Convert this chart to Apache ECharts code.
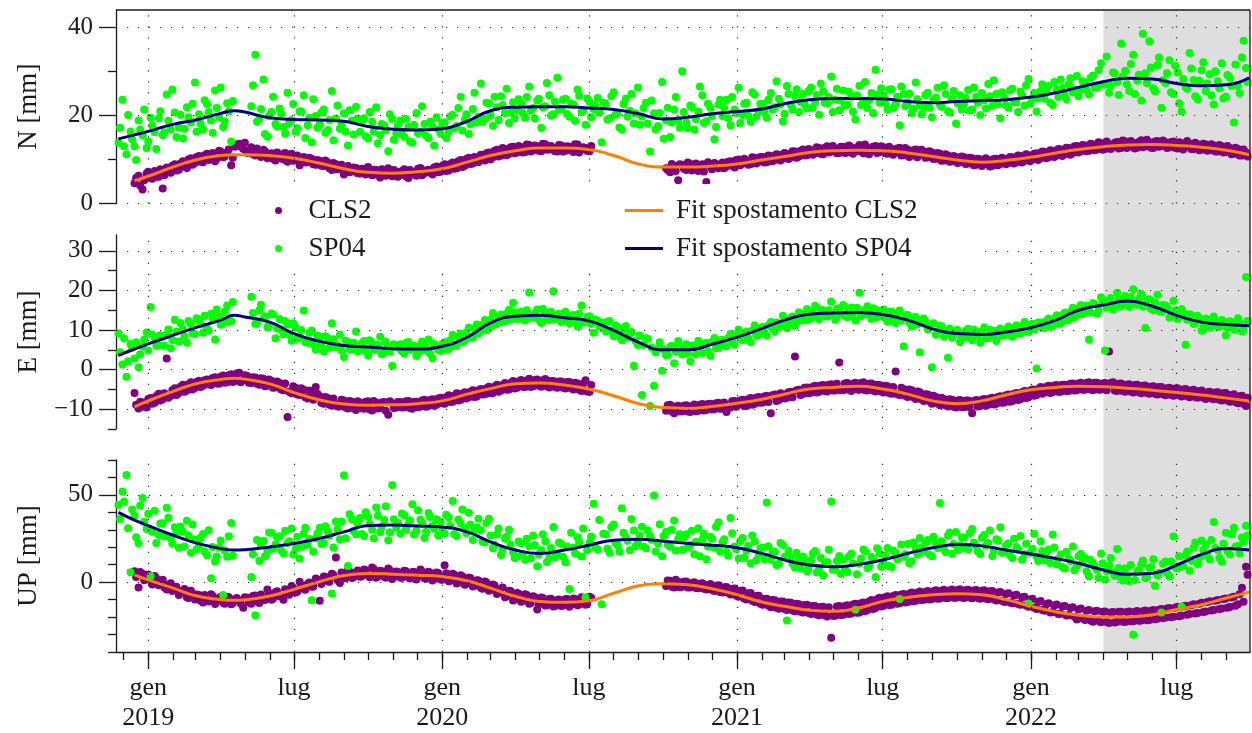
<!DOCTYPE html>
<html>
<head>
<meta charset="utf-8">
<script src="https://cdn.jsdelivr.net/npm/echarts@6/dist/echarts.min.js"></script>
<style>
  html, body { margin: 0; padding: 0; background: #ffffff; }
  #chart { width: 1252px; height: 733px; }
</style>
</head>
<body>
<div id="chart"></div>
<script>
// Daily GNSS displacement (N, E, UP) of stations CLS2 and SP04 with their fitted trends.

// Observations: two interleaved runs, each one value every 5 days from its own start date
// (null = no solution on that day)
const sampleStartA = '2018-11-25';
const sampleStartB = '2018-11-27';
const sampleStepDays = 5;

const nCLS2_a = [
  null, null, null, null, 4.6, 6.3, 3.2, 6.8, 5.9, 7.4,
  6.1, 3.4, 8.2, 7.0, 8.9, 7.7, 9.6, 8.1, 10.3, 9.2,
  10.8, 9.4, 11.3, 10.1, 9.6, 12.0, 10.5, 11.6, 8.7, 12.9,
  13.6, 12.4, 11.5, 12.8, 10.9, 11.7, 12.2, 10.3, 11.4, 9.8,
  11.2, 10.0, 9.5, 11.3, 9.9, 8.7, 10.6, 9.4, 10.2, 8.8,
  9.7, 8.5, 9.3, 7.6, 8.9, 7.9, 6.6, 8.5, 7.3, 8.1,
  6.8, 7.9, 8.3, 6.4, 7.6, 5.9, 7.4, 8.0, 6.2, 7.3,
  6.5, 7.8, 5.8, 7.1, 6.3, 8.1, 6.9, 7.7, 6.6, 8.4,
  7.2, 8.9, 7.5, 9.3, 8.0, 9.9, 8.6, 10.4, 9.1, 9.7,
  11.1, 9.8, 11.6, 10.5, 12.2, 10.9, 12.4, 11.3, 12.9, 11.6,
  12.8, 11.7, 13.3, 12.1, 13.0, 11.9, 13.5, 12.3, 12.7, 11.8,
  13.2, 12.0, 12.9, 11.7, 13.4, 12.2, 12.6, 11.9, null, null,
  null, null, null, null, null, null, null, null, null, null,
  null, null, null, null, null, null, 8.0, 7.1, 8.6, 5.3,
  8.8, 7.6, 9.0, 8.1, 7.4, 8.9, 4.9, 8.5, 9.2, 8.0,
  9.3, 8.4, 9.6, 8.2, 10.0, 9.1, 9.8, 8.9, 10.4, 9.5,
  10.6, 9.4, 10.8, 9.9, 11.1, 10.2, 11.3, 10.5, 11.8, 10.7,
  12.3, 11.0, 12.1, 11.4, 12.6, 11.2, 13.0, 11.8, 12.5, 11.5,
  12.9, 11.6, 12.8, 11.9, 13.3, 11.4, 12.6, 12.0, 13.1, 11.7,
  12.8, 11.3, 12.4, 11.6, 12.7, 11.0, 12.2, 10.9, 12.3, 11.1,
  11.8, 10.5, 11.6, 10.2, 11.3, 9.8, 10.9, 9.6, 10.6, 9.4,
  10.5, 9.1, 10.3, 8.8, 10.0, 8.9, 9.9, 8.6, 10.2, 9.0,
  10.1, 9.2, 10.5, 9.4, 10.8, 9.7, 11.0, 10.0, 11.4, 10.3,
  11.7, 10.5, 12.0, 10.9, 12.3, 11.2, 12.6, 11.5, 13.1, 11.9,
  13.2, 12.0, 13.4, 12.3, 13.7, 12.4, 13.5, 12.8, 14.0, 12.6,
  14.1, 12.9, 13.8, 12.7, 14.4, 13.0, 13.9, 12.6, 14.2, 13.1,
  13.9, 12.8, 14.1, 12.5, 13.7, 12.9, 13.6, 12.4, 13.5, 12.2,
  13.4, 12.1, 13.2, 11.8, 13.0, 11.7, 12.6, 11.3, 12.4, 10.9,
  11.6
];
const nCLS2_b = [
  null, null, null, null, 5.8, 4.1, 5.3, 7.2, 5.6, 6.1,
  7.8, 6.4, 7.1, 8.6, 7.5, 9.1, 8.4, 10.0, 8.8, 10.6,
  9.5, 11.0, 9.9, 11.5, 10.2, 11.8, 10.7, 12.3, 10.4, 13.4,
  12.9, 13.8, 12.0, 11.2, 12.5, 10.6, 11.9, 11.1, 10.2, 11.6,
  10.3, 11.5, 10.8, 9.7, 10.9, 9.6, 9.3, 10.4, 8.9, 9.9,
  8.6, 9.8, 8.0, 9.2, 7.8, 8.8, 8.3, 7.1, 8.2, 6.9,
  7.9, 6.6, 7.1, 7.7, 6.5, 7.8, 6.3, 7.2, 7.6, 6.1,
  7.4, 6.2, 7.6, 6.6, 7.9, 6.4, 7.5, 7.0, 8.2, 7.1,
  8.5, 7.4, 9.0, 7.9, 9.6, 8.3, 10.1, 9.0, 10.6, 9.4,
  10.2, 11.4, 10.0, 12.0, 10.7, 12.6, 11.0, 12.8, 11.4, 13.1,
  11.6, 13.4, 11.8, 13.2, 12.0, 13.6, 12.2, 13.1, 11.9, 13.3,
  11.8, 13.0, 12.1, 13.5, 11.6, 12.8, 12.0, 13.1, null, null,
  null, null, null, null, null, null, null, null, null, null,
  null, null, null, null, null, null, 7.6, 9.0, 7.4, 8.9,
  7.9, 9.3, 7.5, 9.1, 8.2, 7.3, 9.4, 7.8, 9.0, 8.3,
  8.0, 9.5, 8.6, 9.9, 8.7, 10.2, 8.8, 10.5, 9.1, 10.6,
  9.3, 10.9, 9.6, 11.2, 9.8, 11.5, 10.1, 11.9, 10.4, 12.0,
  10.9, 12.4, 11.1, 12.8, 11.3, 12.7, 11.6, 13.1, 11.4, 12.9,
  11.5, 13.2, 11.3, 12.7, 11.8, 13.4, 11.2, 12.9, 11.5, 13.0,
  11.4, 12.9, 11.1, 12.5, 10.9, 12.6, 10.6, 12.1, 10.5, 12.2,
  10.4, 11.9, 10.1, 11.5, 9.7, 11.2, 9.5, 10.8, 9.2, 10.7,
  9.0, 10.4, 8.7, 10.2, 8.5, 10.3, 8.4, 10.1, 8.7, 10.4,
  8.9, 10.6, 9.1, 10.9, 9.3, 11.2, 9.6, 11.3, 9.9, 11.8,
  10.3, 12.1, 10.6, 12.4, 10.8, 12.7, 11.1, 13.0, 11.6, 13.3,
  11.9, 13.6, 12.1, 13.9, 12.2, 14.1, 12.4, 13.8, 12.5, 14.3,
  12.6, 14.2, 12.5, 14.0, 12.8, 14.5, 12.7, 14.1, 12.9, 14.3,
  12.6, 14.0, 12.7, 13.9, 12.3, 14.2, 12.4, 13.8, 12.1, 13.6,
  12.0, 13.5, 11.8, 13.3, 11.6, 13.1, 11.2, 12.7, 10.9, 12.3,
  10.7
];

const nSP04_a = [
  13.8, 23.6, 11.2, 16.4, 13.0, 18.9, 15.5, 12.6, 19.5, 16.2,
  19.4, 15.6, 24.8, 16.9, 20.7, 17.3, 14.8, 21.9, 18.4, 27.5,
  20.3, 16.8, 22.6, 18.9, 25.7, 19.6, 17.4, 22.8, 14.1, null,
  null, null, null, 22.1, 33.8, 19.4, 28.2, 15.2, 20.8, 18.1,
  21.6, 17.4, 25.2, 19.0, 16.3, 20.9, 24.6, 17.8, 13.9, 19.9,
  18.1, 21.4, 16.7, 25.6, 19.3, 17.0, 20.5, 13.2, 18.9, 22.0,
  16.3, 19.4, 14.8, 18.6, 21.9, 15.6, 17.8, 11.9, 19.2, 16.0,
  18.9, 15.2, 17.4, 13.8, 20.6, 16.3, 18.1, 14.9, 17.5, 19.6,
  15.9, 18.4, 16.3, 20.2, 17.6, 24.3, 19.1, 15.8, 21.5, 18.4,
  27.3, 19.2, 22.8, 17.7, 21.9, 24.4, 20.6, 18.3, 23.0, 21.2,
  22.8, 19.5, 26.6, 21.7, 23.4, 17.2, 22.1, 24.6, 20.3, 28.6,
  21.4, 23.8, 19.7, 22.5, 25.9, 20.8, 17.9, 23.1, 21.5, 24.0,
  13.9, 22.7, 19.4, 25.3, 20.6, 16.8, 23.9, 21.1, 18.2, 26.4,
  19.8, 22.9, 11.8, 20.5, 17.6, 27.6, 18.9, 15.1, 21.4, 19.0,
  30.1, 18.4, 22.3, 16.8, 20.9, 24.6, 18.7, 21.8, 14.6, 22.5,
  19.9, 23.6, 17.8, 21.4, 26.3, 20.1, 22.9, 18.6, 24.8, 21.0,
  22.7, 19.5, 25.1, 21.9, 23.8, 18.7, 26.7, 22.4, 24.5, 20.8,
  24.9, 21.6, 26.4, 23.1, 20.2, 25.5, 22.8, 28.9, 23.6, 21.2,
  25.7, 22.5, 24.3, 19.1, 26.8, 23.2, 21.7, 25.1, 30.4, 22.9,
  24.6, 21.3, 26.0, 22.7, 17.8, 24.9, 23.0, 20.6, 27.5, 22.4,
  21.9, 25.2, 19.6, 24.1, 22.5, 26.9, 21.0, 23.8, 18.2, 24.6,
  22.7, 25.8, 21.4, 24.3, 20.1, 23.5, 27.2, 22.2, 24.9, 19.4,
  24.1, 21.8, 26.1, 23.0, 25.4, 22.3, 28.3, 23.7, 20.9, 25.6,
  23.8, 26.7, 22.4, 25.9, 28.2, 24.6, 27.1, 25.3, 29.0, 26.0,
  27.5, 24.8, 29.1, 26.3, 31.9, 27.0, 25.2, 29.8, 27.6, 36.4,
  30.2, 25.6, 33.8, 27.9, 23.4, 29.6, 36.9, 26.2, 31.5, 21.8,
  27.4, 32.6, 24.9, 29.8, 20.9, 26.5, 34.2, 28.1, 23.7, 30.3,
  25.6, 29.4, 22.5, 27.8, 31.9, 24.3, 28.6, 18.4, 26.9, 33.2,
  30.8
];
const nSP04_b = [
  17.2, 13.0, 20.1, 14.6, 9.9, 16.8, 21.4, 14.1, 17.7, 12.4,
  21.0, 16.2, 18.8, 25.9, 15.1, 20.2, 17.0, 19.6, 22.7, 16.4,
  18.2, 23.5, 20.8, 16.1, 21.7, 26.4, 18.7, 20.9, 23.3, null,
  null, null, null, 26.9, 18.6, 21.5, 15.8, 19.9, 24.3, 17.5,
  20.4, 15.9, 18.3, 22.6, 17.1, 21.0, 14.9, 19.5, 23.7, 17.3,
  20.7, 16.1, 19.0, 14.4, 22.3, 18.1, 16.4, 21.2, 15.7, 19.3,
  18.6, 15.3, 20.8, 16.4, 13.7, 18.1, 16.7, 20.3, 14.5, 17.6,
  15.8, 19.2, 14.1, 17.9, 16.0, 22.1, 15.4, 18.6, 13.2, 16.9,
  18.3, 14.9, 19.8, 17.1, 21.7, 16.6, 20.3, 18.0, 25.2, 19.7,
  18.6, 22.9, 20.1, 24.3, 19.0, 22.4, 26.1, 20.7, 19.4, 23.7,
  20.6, 24.2, 21.1, 19.3, 23.8, 21.9, 27.4, 20.0, 23.2, 21.4,
  23.6, 20.4, 22.7, 18.8, 24.5, 21.2, 23.9, 19.6, 22.2, 20.7,
  22.9, 19.1, 24.4, 20.2, 17.3, 22.6, 19.8, 24.9, 20.5, 17.9,
  21.7, 18.2, 23.4, 16.9, 20.6, 14.7, 21.8, 18.4, 24.2, 17.2,
  20.8, 17.1, 21.9, 19.2, 26.6, 18.3, 22.7, 19.9, 17.4, 23.6,
  21.8, 19.4, 24.2, 20.6, 18.3, 22.7, 20.0, 25.3, 19.7, 22.6,
  20.9, 23.6, 21.4, 27.8, 22.5, 20.4, 24.9, 21.3, 26.0, 23.1,
  22.5, 25.6, 21.8, 24.7, 27.3, 22.9, 24.2, 20.8, 26.1, 23.4,
  22.2, 25.4, 20.9, 24.6, 22.4, 27.6, 23.5, 20.6, 24.8, 26.2,
  22.8, 25.9, 21.7, 24.3, 26.6, 22.1, 25.0, 21.6, 23.7, 20.3,
  24.7, 21.8, 23.6, 26.3, 22.0, 24.9, 20.7, 25.6, 22.8, 21.4,
  24.0, 21.1, 26.4, 22.9, 25.1, 21.6, 24.4, 28.0, 22.6, 25.3,
  22.4, 25.7, 23.1, 20.8, 24.6, 26.9, 22.7, 25.2, 23.9, 27.1,
  25.4, 22.9, 27.6, 24.2, 26.3, 23.7, 28.5, 25.9, 24.4, 27.8,
  25.8, 28.6, 26.4, 30.3, 27.1, 33.4, 26.9, 29.6, 24.7, 28.9,
  27.1, 31.7, 24.9, 29.3, 38.6, 27.4, 30.9, 25.5, 33.2, 28.0,
  29.6, 25.3, 31.4, 22.8, 28.3, 26.1, 30.7, 24.4, 27.9, 32.1,
  27.3, 24.6, 30.1, 26.2, 23.9, 29.2, 26.7, 31.6, 25.1, 37.0,
  27.6
];

const eCLS2_a = [
  null, null, null, null, -5.9, -9.8, -8.3, -9.6, -7.2, -8.4,
  -6.1, -7.5, 2.8, -6.6, -4.7, -5.9, -3.8, -5.3, -3.2, -4.6,
  -2.8, -4.1, -2.5, -3.9, -1.9, -3.6, -1.5, -3.2, -1.2, -2.9,
  -0.8, -2.6, -1.6, -3.4, -2.0, -3.8, -2.3, -4.1, -2.8, -4.5,
  -3.4, -5.2, -12.0, -6.0, -4.6, -6.4, -5.1, -7.3, -6.0, -4.4,
  -6.7, -8.6, -7.2, -9.1, -8.7, -9.3, -7.8, -9.8, -8.1, -10.2,
  -8.3, -9.9, -8.0, -10.3, -8.4, -9.7, -8.2, -11.4, -8.5, -9.6,
  -8.2, -9.5, -7.9, -9.9, -8.1, -9.3, -7.6, -9.2, -7.5, -8.9,
  -7.1, -8.6, -6.5, -8.1, -6.0, -7.6, -5.7, -7.0, -5.2, -6.8,
  -4.9, -6.2, -4.3, -5.9, -3.8, -5.3, -3.4, -5.0, -2.9, -4.6,
  -2.6, -4.4, -2.3, -4.2, -2.5, -4.3, -2.4, -4.5, -2.9, -4.6,
  -3.0, -4.8, -3.1, -5.0, -3.5, -5.4, -2.7, -5.6, null, null,
  null, null, null, null, null, null, null, null, null, null,
  null, null, null, null, null, null, -10.4, -8.9, -11.0, -9.1,
  -10.5, -9.0, -10.7, -8.8, -10.4, -8.7, -10.2, -8.6, -10.0, -8.4,
  -9.8, -10.7, -9.6, -7.9, -8.9, -7.6, -9.2, -7.2, -8.6, -6.9,
  -8.3, -6.6, -11.0, -6.3, -7.7, -6.2, -7.1, -5.6, 3.3, -5.1,
  -6.1, -4.5, -5.8, -4.1, -5.6, -3.9, -5.5, -3.7, -5.3, 1.8,
  -5.2, -3.4, -5.4, -3.3, -5.1, -3.2, -5.3, -3.5, -5.5, -3.9,
  -5.8, -4.2, -6.1, -0.5, -6.4, -4.9, -6.9, -5.2, -7.4, -5.7,
  -7.9, -6.3, -8.6, -6.9, -9.0, -7.4, -9.3, -7.6, -9.6, -7.7,
  -9.5, -7.8, -11.0, -7.7, -9.2, -7.4, -8.9, -7.1, -8.6, -6.7,
  -8.3, -6.3, -7.9, -5.9, -7.5, -5.4, -7.0, -5.0, -6.4, -4.4,
  -5.8, -4.1, -5.7, -3.9, -5.6, -3.8, -5.4, -3.5, -5.2, -3.3,
  -5.1, -3.2, -5.2, -3.3, -5.0, -3.4, 4.6, -3.2, -5.4, -3.5,
  -5.6, -3.7, -5.8, -3.8, -6.0, -4.0, -6.1, -4.2, -6.3, -4.4,
  -6.5, -4.6, -6.6, -4.7, -6.8, -4.9, -7.0, -5.1, -7.1, -5.3,
  -7.4, -5.6, -7.5, -5.7, -7.8, -5.9, -8.1, -6.2, -8.5, -6.6,
  -9.2
];
const eCLS2_b = [
  null, null, null, null, -8.9, -8.1, -9.4, -7.4, -8.6, -6.7,
  -7.8, -6.0, -7.1, -5.2, -6.4, -4.3, -5.6, -3.7, -5.0, -3.1,
  -4.4, -2.7, -3.7, -2.1, -3.5, -1.8, -3.3, -1.4, -3.1, -1.0,
  -3.2, -1.4, -3.3, -1.9, -3.6, -2.2, -4.2, -2.5, -4.6, -3.0,
  -5.0, -3.5, -5.6, -4.2, -6.3, -4.7, -7.0, -5.3, -7.6, -6.1,
  -8.4, -6.9, -8.9, -7.3, -9.3, -7.6, -9.6, -7.9, -9.8, -8.0,
  -9.7, -8.1, -10.1, -7.9, -9.8, -8.3, -10.4, -8.0, -9.7, -8.2,
  -9.6, -8.0, -9.7, -8.1, -9.5, -7.8, -9.4, -7.7, -9.1, -7.3,
  -8.5, -7.0, -8.2, -6.6, -7.8, -6.1, -7.3, -5.6, -6.9, -5.2,
  -6.3, -4.7, -6.0, -4.3, -5.6, -3.9, -5.1, -3.4, -4.8, -3.0,
  -4.3, -2.8, -4.4, -2.6, -4.1, -2.7, -4.2, -2.9, -4.4, -3.0,
  -4.6, -3.1, -4.7, -3.3, -5.1, -3.6, -5.5, -3.9, null, null,
  null, null, null, null, null, null, null, null, null, null,
  null, null, null, null, null, null, -9.0, -10.5, -9.3, -10.6,
  -9.1, -10.6, -9.2, -10.5, -8.9, -10.3, -8.7, -10.1, -8.5, -9.9,
  -8.3, -9.7, -8.0, -9.4, -7.8, -9.2, -7.5, -8.9, -7.1, -8.4,
  -6.8, -8.2, -6.5, -7.9, -6.0, -7.3, -5.7, -7.0, -5.2, -6.4,
  -4.6, -6.0, -4.3, -5.8, -4.0, -5.4, -3.8, -5.3, -3.6, -5.2,
  -3.5, -5.1, -3.6, -5.0, -3.4, -5.2, -3.6, -5.3, -3.8, -5.5,
  -4.1, -5.9, -4.4, -6.2, -4.6, -6.6, -5.0, -7.0, -5.5, -7.5,
  -6.2, -8.0, -6.6, -8.5, -7.1, -9.0, -7.5, -9.4, -7.8, -9.5,
  -7.8, -9.5, -7.9, -9.3, -7.6, -9.1, -7.3, -8.8, -6.9, -8.4,
  -6.5, -8.1, -6.1, -7.7, -5.7, -7.2, -5.3, -6.6, -4.9, -6.1,
  -4.3, -5.9, -4.0, -5.6, -3.8, -5.4, -3.6, -5.3, -3.5, -5.1,
  -3.4, -5.0, -3.3, -5.1, -3.5, -5.2, -3.4, -5.3, -3.6, -5.4,
  -3.8, -5.5, -3.9, -5.7, -4.1, -5.9, -4.3, -6.1, -4.4, -6.2,
  -4.7, -6.4, -4.8, -6.5, -5.0, -6.7, -5.2, -6.9, -5.4, -7.1,
  -5.7, -7.3, -5.8, -7.6, -6.0, -7.8, -6.4, -8.2, -6.7, -8.6,
  -7.1
];

const eSP04_a = [
  9.2, 1.3, -1.8, 6.5, 2.8, 0.6, 5.9, 9.4, 15.8, 8.1,
  6.2, 8.3, 8.9, 5.4, 12.6, 7.1, 10.2, 6.8, 11.5, 9.0,
  12.7, 9.3, 10.5, 14.1, 7.6, 13.4, 11.8, 16.2, 12.2, null,
  null, null, null, 18.4, 11.6, 15.0, 12.9, 10.7, 14.2, 7.9,
  12.8, 9.0, 11.4, 7.3, 10.6, 8.2, 14.9, 6.8, 9.9, 5.1,
  8.3, 4.6, 7.9, 11.7, 5.7, 8.8, 3.2, 7.0, 5.0, 9.6,
  4.9, 7.2, 3.6, 6.8, 5.1, 8.3, 4.4, 6.1, 1.0, 5.9,
  6.4, 4.1, 7.0, 5.3, 3.5, 6.2, 4.8, 7.6, 2.9, 5.7,
  4.7, 6.9, 5.2, 8.8, 6.0, 9.1, 7.2, 10.6, 8.1, 11.4,
  9.8, 12.5, 10.4, 14.3, 11.6, 13.9, 12.2, 15.1, 16.9, 12.8,
  14.7, 12.4, 19.5, 13.1, 15.2, 11.8, 14.4, 12.5, 19.8, 13.6,
  12.0, 14.6, 11.7, 13.8, 10.9, 16.2, 12.1, 13.5, 9.3, 12.4,
  11.9, 9.6, 12.3, 8.4, 10.7, 7.5, 11.0, 9.1, 1.0, 6.2,
  -6.4, 7.9, -9.2, -4.1, 5.3, -0.3, 3.6, 5.8, 1.6, 7.2,
  3.8, 6.4, 2.1, 5.9, 7.3, 4.2, 6.8, 3.5, 8.0, 5.6,
  7.5, 5.9, 9.0, 6.3, 10.1, 7.4, 9.6, 6.9, 11.2, 8.7,
  10.8, 8.6, 12.0, 9.7, 11.4, 13.6, 10.5, 12.9, 11.1, 14.5,
  12.4, 15.3, 13.0, 16.1, 12.7, 14.9, 13.4, 17.2, 12.6, 15.5,
  16.3, 13.2, 15.7, 12.4, 19.4, 14.0, 16.0, 12.8, 15.1, 13.5,
  15.2, 12.1, 14.6, 11.8, 14.9, 5.9, 13.8, 10.9, 13.3, 4.4,
  12.9, 10.2, 0.6, 8.8, 11.1, 8.3, 3.0, 8.1, 9.9, 7.0,
  8.1, 10.3, 7.4, 9.6, 6.8, 10.7, 8.0, 9.9, 7.2, 10.4,
  8.7, 10.9, 8.3, 11.2, 9.1, 12.0, 9.6, 11.6, 0.3, 11.9,
  10.6, 12.9, 11.0, 13.7, 11.8, 14.4, 12.5, 15.6, 13.8, 16.3,
  14.6, 7.6, 16.8, 14.1, 18.3, 4.8, 17.5, 15.2, 19.4, 16.0,
  18.6, 15.9, 20.3, 16.4, 19.1, 10.5, 17.8, 15.0, 18.9, 14.6,
  16.2, 13.1, 17.4, 12.8, 15.3, 6.3, 14.0, 11.5, 13.6, 9.8,
  12.9, 10.6, 13.4, 10.9, 12.5, 8.6, 12.2, 10.1, 13.0, 9.6,
  23.4
];
const eSP04_b = [
  4.4, 7.9, 2.1, 5.6, 6.9, 3.9, 7.6, 4.8, 8.9, 6.0,
  8.7, 6.0, 10.1, 7.5, 9.6, 11.8, 8.4, 12.3, 9.1, 13.0,
  11.4, 13.6, 9.8, 12.9, 15.2, 11.3, 14.6, 12.0, 17.1, null,
  null, null, null, 14.3, 11.8, 16.4, 13.5, 11.2, 13.9, 10.4,
  10.1, 12.3, 8.9, 11.7, 7.8, 10.0, 6.9, 9.3, 6.4, 8.6,
  6.3, 8.4, 5.5, 7.7, 6.1, 4.9, 7.3, 5.2, 6.8, 4.6,
  6.6, 4.8, 7.4, 5.0, 6.3, 3.9, 7.0, 4.6, 6.4, 5.5,
  4.6, 6.7, 5.1, 6.0, 4.3, 7.1, 5.5, 4.0, 6.5, 5.0,
  6.5, 5.1, 7.4, 6.2, 8.3, 7.0, 9.4, 8.2, 10.3, 9.1,
  11.3, 10.0, 12.6, 11.4, 13.3, 12.0, 14.1, 12.6, 14.5, 13.1,
  12.8, 15.0, 13.3, 14.2, 12.6, 15.4, 13.0, 14.6, 12.7, 14.1,
  14.0, 12.2, 13.6, 12.4, 14.1, 11.9, 13.3, 11.5, 12.6, 10.9,
  10.4, 12.1, 9.9, 11.2, 9.0, 10.1, 8.1, 9.5, 7.2, 8.6,
  6.2, 7.8, 5.6, 4.4, 6.9, 5.1, 3.8, 6.0, 4.5, 5.9,
  5.6, 4.2, 6.1, 3.9, 5.8, 6.6, 4.7, 7.0, 5.4, 7.4,
  6.1, 8.0, 7.2, 8.8, 7.9, 9.2, 8.0, 9.9, 8.6, 10.4,
  9.3, 11.2, 10.4, 11.9, 10.8, 12.5, 11.3, 13.4, 12.0, 13.7,
  14.1, 12.6, 14.5, 13.3, 15.2, 13.6, 15.0, 13.8, 15.4, 13.9,
  13.6, 15.3, 14.0, 15.6, 13.5, 15.1, 13.9, 15.5, 13.3, 14.8,
  13.1, 14.6, 12.8, 14.2, 12.4, 13.7, 11.9, 13.2, 11.4, 12.6,
  12.2, 10.6, 11.7, 9.7, 10.9, 9.0, 10.4, 8.7, 10.0, 8.4,
  9.8, 8.2, 10.1, 8.5, 9.6, 7.9, 10.0, 8.3, 9.9, 8.6,
  10.1, 8.8, 10.6, 9.2, 11.0, 9.7, 11.4, 10.1, 11.9, 10.5,
  12.3, 10.8, 12.9, 11.6, 13.8, 12.4, 14.6, 13.2, 15.5, 14.0,
  16.2, 14.4, 16.6, 15.0, 17.2, 15.6, 18.1, 16.0, 17.8, 16.5,
  16.4, 18.3, 16.7, 17.9, 15.9, 17.6, 15.4, 16.9, 14.8, 16.3,
  15.6, 13.9, 14.9, 13.2, 14.3, 12.6, 13.8, 11.9, 13.0, 11.4,
  12.7, 11.1, 12.4, 10.8, 12.2, 10.6, 11.9, 10.4, 11.8, 10.1,
  12.3
];

const upCLS2_a = [
  null, null, null, null, 6.3, -3.1, 4.8, 2.0, 0.9, 3.5,
  -1.8, 1.4, -4.2, -0.6, -3.5, -7.3, -5.1, -8.6, -4.9, -9.9,
  -7.4, -11.6, -8.2, -6.9, -12.5, -9.0, -11.8, -8.3, -12.7, -9.6,
  -10.8, -14.6, -8.9, -12.3, -7.6, -11.9, -9.7, -4.2, -10.1, -5.8,
  -8.1, -10.0, -6.7, -2.2, -5.9, 0.3, -3.8, -1.0, -2.6, 2.1,
  -10.6, 3.3, 0.6, 4.9, 14.2, -0.4, 3.0, 6.8, 2.4, 5.6,
  3.1, 7.2, 4.0, 8.4, 2.6, 6.5, 3.3, 7.9, 1.8, 6.1,
  2.7, 6.6, 3.0, 5.9, 1.5, 7.3, 2.2, 6.0, 0.9, 5.5,
  1.6, 9.7, 0.5, 4.8, -0.7, 3.9, -1.4, 2.6, -2.5, 1.1,
  -3.2, 0.4, -4.9, -1.3, -6.8, -3.7, -8.6, -4.9, -10.5, -6.2,
  -11.2, -6.9, -12.4, -8.1, -15.6, -8.8, -13.4, -9.6, -14.0, -10.2,
  -13.6, -9.8, -14.1, -9.4, -13.2, -8.7, -12.9, -8.4, null, null,
  null, null, null, null, null, null, null, null, null, null,
  null, null, null, null, null, null, -2.2, 0.8, -3.1, 0.2,
  -2.6, 0.4, -3.0, -0.1, -3.5, -0.6, -4.2, -1.1, -5.0, -1.7,
  -5.9, -2.8, -7.1, -3.6, -8.3, -4.8, -9.9, -6.2, -11.4, -7.8,
  -13.0, -9.5, -14.3, -10.4, -15.2, -11.1, -16.0, -11.8, -16.7, -12.6,
  -17.4, -13.0, -18.2, -13.6, -19.0, -14.1, -19.6, -31.8, -19.3, -13.7,
  -18.6, -13.2, -17.9, -12.4, -17.3, -11.6, -16.0, -10.2, -14.8, -8.9,
  -13.5, -8.1, -12.9, -7.3, -12.1, -6.7, -11.4, -5.9, -10.6, -5.4,
  -10.1, -5.0, -9.6, -4.6, -9.3, -4.4, -9.1, -4.2, -8.9, -4.1,
  -9.0, -4.3, -9.2, -4.5, -9.5, -4.6, -9.8, -5.0, -10.5, -5.6,
  -11.3, -6.4, -12.1, -7.2, -13.0, -8.3, -14.1, -9.5, -15.3, -10.8,
  -16.4, -12.0, -17.2, -12.8, -18.1, -13.6, -19.0, -14.3, -21.4, -15.1,
  -21.7, -16.0, -22.6, -16.4, -22.9, -16.8, -23.4, -17.1, -22.6, -16.9,
  -22.8, -16.8, -22.4, -16.5, -22.0, -16.2, -21.6, -15.9, -21.0, -15.4,
  -20.3, -14.8, -19.8, -14.1, -19.1, -13.5, -18.3, -12.7, -17.6, -11.8,
  -16.8, -10.9, -16.0, -10.2, -15.1, -9.3, -14.2, -8.4, -12.6, -3.2,
  8.9
];
const upCLS2_b = [
  null, null, null, null, 2.9, 5.8, 1.1, 4.4, -1.3, 2.2,
  0.6, -3.0, -1.4, -5.1, -2.6, -6.2, -3.9, -9.0, -6.8, -7.1,
  -10.6, -7.4, -11.1, -7.9, -10.9, -8.4, -12.3, -8.6, -11.9, -9.1,
  -12.4, -8.6, -11.7, -7.9, -11.0, -7.1, -10.2, -6.3, -9.4, -5.2,
  -7.9, -4.1, -7.2, -3.3, -5.5, -1.7, -4.4, -0.2, -2.5, 1.5,
  -1.1, 2.9, 0.3, 4.1, 1.2, 5.5, 2.3, 6.1, 3.0, 6.7,
  3.4, 6.9, 2.8, 7.6, 3.2, 6.2, 2.5, 6.8, 3.0, 5.9,
  2.6, 6.3, 2.1, 5.8, 3.3, 6.1, 1.9, 5.4, 2.0, 5.2,
  1.4, 5.1, 0.8, 4.3, -0.2, 3.4, -0.9, 2.4, -2.0, 0.9,
  -3.7, -0.2, -4.5, -1.9, -6.1, -3.0, -7.9, -5.1, -9.9, -6.6,
  -10.6, -7.4, -11.9, -8.6, -12.6, -9.1, -13.2, -9.5, -13.6, -9.9,
  -13.4, -9.6, -13.0, -9.7, -12.8, -9.3, -12.4, -8.9, null, null,
  null, null, null, null, null, null, null, null, null, null,
  null, null, null, null, null, null, 0.9, -2.6, 1.4, -2.9,
  0.2, -3.0, -0.4, -3.4, -0.9, -3.8, -1.6, -4.5, -2.1, -5.6,
  -2.9, -6.1, -3.8, -7.6, -4.9, -9.4, -6.3, -10.7, -7.9, -12.3,
  -9.6, -13.4, -10.2, -14.6, -11.0, -15.4, -11.6, -16.2, -12.4, -16.9,
  -13.1, -17.6, -13.7, -18.5, -14.2, -18.9, -14.4, -19.2, -14.0, -18.8,
  -13.6, -18.2, -12.8, -17.5, -12.1, -16.6, -11.0, -15.3, -9.8, -13.9,
  -8.6, -13.1, -7.9, -12.4, -7.1, -11.6, -6.6, -10.9, -6.0, -10.2,
  -5.6, -9.9, -5.2, -9.5, -4.9, -9.1, -4.7, -8.9, -4.5, -8.8,
  -4.6, -8.8, -4.8, -9.1, -4.9, -9.4, -5.2, -9.8, -5.9, -10.7,
  -6.8, -11.6, -7.6, -12.5, -8.7, -13.4, -9.9, -14.7, -11.3, -15.9,
  -12.6, -17.4, -13.3, -18.3, -14.0, -19.1, -14.8, -19.8, -15.6, -20.6,
  -16.3, -21.9, -16.7, -22.3, -17.0, -22.8, -17.3, -23.1, -17.0, -22.6,
  -17.1, -22.4, -16.9, -22.1, -16.6, -21.8, -16.3, -21.3, -15.8, -20.7,
  -15.1, -20.1, -14.6, -19.5, -13.9, -18.7, -13.2, -18.0, -12.3, -17.1,
  -11.3, -16.2, -10.6, -15.4, -9.7, -14.6, -8.8, -13.5, -6.9, -11.2,
  4.3
];

const upSP04_a = [
  44.3, 52.0, 61.4, 5.7, 38.1, 22.3, 48.2, 30.5, 3.4, 40.9,
  27.1, 33.8, 42.6, 24.9, 31.4, 19.7, 29.0, 35.2, 16.8, 24.5,
  21.3, 27.6, 15.4, 2.3, 11.9, 19.8, -7.3, 14.6, 33.9, null,
  null, null, null, 3.0, -19.0, 12.1, 23.7, 17.9, 28.3, 21.6,
  26.3, 16.4, 22.5, 30.7, 19.2, 13.6, 27.8, 21.5, -10.4, 25.1,
  31.2, 22.4, 29.1, -6.5, 34.7, 24.6, 61.2, 9.2, 36.0, 27.5,
  36.8, 26.4, 37.5, 30.1, 42.8, 28.7, 35.6, 24.0, 55.7, 31.3,
  27.9, 38.4, 33.0, 44.6, 29.5, 35.8, 25.3, 39.7, 32.2, 36.1,
  34.5, 28.0, 37.2, 46.5, 26.4, 33.6, 30.9, 39.8, 24.1, 31.4,
  29.7, 22.8, 36.4, 19.5, 27.3, 15.6, 24.9, 30.1, 17.2, 14.5,
  22.3, 12.8, 20.6, 26.7, 9.1, 18.4, 23.5, 13.9, 31.6, 16.0,
  21.9, 11.4, -3.9, 19.8, 25.7, 14.7, -8.7, 22.8, 44.9, 18.7,
  -12.6, 27.4, 16.9, 33.1, 21.2, 42.4, 25.8, 18.3, 29.6, 23.0,
  31.8, 19.4, 26.5, 49.7, 22.1, 14.8, 28.9, 20.3, 35.4, 24.7,
  18.6, 27.5, 21.3, 16.0, 30.9, 24.4, 13.2, 26.1, 19.7, 34.3,
  22.9, 17.4, 36.8, 20.5, 13.6, 25.3, 18.2, 10.8, 23.4, 15.7,
  19.8, 45.6, 12.9, 17.5, 10.6, 21.3, -22.0, 14.2, 8.4, 13.1,
  14.7, 6.2, 12.4, 17.8, 8.1, 3.9, 11.6, 46.2, 7.3, 15.0,
  12.9, 5.8, 16.3, -15.8, 10.6, 18.7, 8.1, 14.5, 2.9, 16.4,
  11.2, 19.6, 8.7, 16.8, -9.6, 14.6, 21.9, 12.0, 19.4, 25.3,
  17.4, 24.2, 14.9, 22.5, 45.3, 19.0, 26.7, 16.3, 28.8, 21.1,
  25.6, 18.9, 30.4, 20.8, 16.2, 27.1, 22.4, 15.0, 24.6, 31.5,
  17.3, 22.1, 13.9, 20.2, 26.4, 16.0, -12.2, 19.1, 14.7, 23.5,
  12.6, 18.7, 27.3, 10.3, 15.9, 7.8, 13.6, 20.4, 9.1, 16.2,
  13.8, 3.4, 11.2, 7.0, 16.4, 1.6, 9.5, 5.7, 19.0, 2.8,
  7.9, 0.6, -30.1, 5.9, 10.2, 2.4, 8.3, 13.1, 4.0, -17.4,
  11.8, 3.2, 26.2, 8.0, -14.1, 15.5, 6.6, 19.7, 10.4, 23.9,
  21.6, 13.0, 34.5, 18.4, 11.7, 28.3, 15.9, 31.2, 20.8, 25.6,
  32.4
];
const upSP04_b = [
  36.2, 46.1, 30.9, 41.7, 25.8, 43.9, 34.6, 39.2, 29.1, 22.4,
  33.6, 26.2, 36.9, 22.1, 28.7, 31.9, 20.4, 26.8, 33.0, 18.9,
  25.4, 17.6, 29.8, 20.1, 14.7, 23.9, 18.2, 26.3, 15.3, null,
  null, null, null, 16.0, 24.2, 21.3, 14.9, 28.4, 19.1, 25.7,
  18.2, 29.5, 23.4, 15.8, 26.1, 20.3, 31.2, 24.8, 17.6, 27.9,
  21.9, 32.0, 26.6, 19.8, 30.3, 34.8, 25.2, 38.9, 29.3, 33.7,
  27.6, 40.1, 33.4, 25.2, 38.0, 31.7, 43.5, 28.6, 36.1, 33.9,
  39.3, 30.2, 35.5, 27.3, 41.2, 33.8, 28.9, 37.4, 30.6, 26.8,
  29.4, 38.6, 32.3, 27.5, 35.9, 41.7, 28.2, 33.1, 29.9, 36.4,
  23.1, 33.9, 26.8, 21.4, 30.7, 18.9, 26.0, 21.6, 13.8, 23.3,
  16.2, 24.9, 13.7, 21.3, 15.8, 27.4, 11.5, 19.6, 14.3, 22.7,
  14.6, 20.5, 28.3, 16.6, 22.9, 30.8, 18.4, 26.2, 19.9, 35.6,
  27.7, 19.3, 31.5, 22.6, 17.4, 28.3, 23.8, 36.2, 20.6, 26.9,
  20.5, 29.8, 24.3, 17.6, 33.2, 26.4, 21.5, 30.1, 18.2, 27.5,
  25.6, 19.8, 29.4, 23.2, 14.9, 27.8, 20.5, 24.9, 31.7, 17.6,
  24.6, 15.3, 28.1, 19.0, 23.6, 14.2, 20.9, 26.8, 12.6, 19.5,
  13.2, 20.6, 16.9, 9.8, 22.4, 14.6, 18.0, 10.5, 16.8, 7.9,
  12.8, 8.4, 16.4, 5.6, 13.9, 10.7, 18.6, 7.1, 12.2, 4.8,
  7.6, 14.8, 10.9, 4.6, 13.6, 17.9, 9.4, 12.7, 19.5, 8.8,
  15.4, 9.3, 18.2, 13.1, 21.6, 16.0, 10.8, 22.7, 15.9, 19.8,
  22.6, 15.8, 26.1, 19.6, 23.4, 17.3, 28.4, 21.9, 18.4, 25.7,
  19.3, 28.2, 22.8, 17.6, 25.4, 20.9, 29.6, 18.3, 23.7, 16.8,
  21.0, 15.4, 24.9, 18.7, 12.9, 22.0, 16.8, 27.7, 12.1, 17.9,
  16.8, 11.0, 19.9, 13.4, 8.7, 17.5, 12.2, 6.9, 14.8, 11.3,
  6.2, 12.7, 8.9, 2.4, 10.8, 6.4, 13.9, 3.7, 8.1, 0.9,
  3.5, 9.8, 1.3, 6.9, 12.4, 3.1, 8.7, -2.0, 5.3, 10.6,
  5.2, 11.9, 8.6, 14.8, 9.1, 17.6, 12.3, 22.8, 14.2, 18.5,
  15.1, 24.2, 19.6, 13.8, 22.0, 17.9, 27.4, 20.3, 16.6, 23.1,
  26.8
];

// Fitted displacement curves, sampled at these dates
const fitDates = [
  '2018-11-25', '2018-12-15',
  '2019-01-01', '2019-02-01', '2019-03-01', '2019-04-01', '2019-04-18', '2019-05-01', '2019-06-01',
  '2019-07-01', '2019-08-01', '2019-09-01', '2019-10-01', '2019-11-01', '2019-12-01',
  '2020-01-01', '2020-02-01', '2020-03-01', '2020-04-01', '2020-05-01', '2020-06-01',
  '2020-07-01', '2020-08-01', '2020-09-01', '2020-10-01', '2020-11-01', '2020-12-01',
  '2021-01-01', '2021-02-01', '2021-03-01', '2021-04-01', '2021-05-01', '2021-06-01',
  '2021-07-01', '2021-08-01', '2021-09-01', '2021-10-01', '2021-11-01', '2021-12-01',
  '2022-01-01', '2022-02-01', '2022-03-01', '2022-04-01', '2022-05-01', '2022-06-01',
  '2022-07-01', '2022-08-01', '2022-09-01', '2022-09-29'
];

const nFitCLS2 = [
  null, 5.2, 6.2, 8.3, 9.9, 10.9, 11.1, 11.1, 10.9, 10.3, 9.2, 7.9, 7.1, 6.9, 7.2,
  7.9, 9.4, 10.9, 12.0, 12.6, 12.6, 12.3, 10.9, 9.0, 8.3, 8.3, 8.5,
  9.0, 9.9, 10.7, 11.6, 12.0, 12.1, 12.0, 11.5, 10.7, 9.9, 9.4, 9.8,
  10.5, 11.5, 12.3, 12.9, 13.3, 13.4, 13.2, 12.8, 12.1, 11.1
];
const nFitSP04 = [
  14.7, 15.6, 16.4, 18.0, 19.0, 20.5, 21.1, 20.8, 19.5, 19.1, 19.0, 18.7, 17.5, 16.9, 16.7,
  17.0, 18.7, 21.1, 21.9, 22.0, 22.0, 21.7, 21.4, 20.4, 19.2, 19.6, 20.4,
  20.9, 21.5, 22.7, 23.6, 23.9, 23.9, 23.8, 23.2, 22.9, 23.2, 23.4, 23.6,
  24.2, 25.2, 26.4, 27.7, 28.5, 28.3, 27.3, 26.8, 27.0, 28.6
];
const eFitCLS2 = [
  null, -9.4, -7.9, -5.5, -3.6, -2.5, -2.2, -2.4, -3.6, -5.8, -7.6, -8.7, -9.0, -8.9, -8.6,
  -7.9, -6.2, -4.8, -3.6, -3.4, -3.9, -4.9, -6.6, -8.6, -9.6, -9.8, -9.3,
  -8.5, -7.5, -6.2, -4.9, -4.5, -4.2, -4.9, -6.2, -7.9, -8.6, -7.9, -6.4,
  -5.1, -4.5, -4.2, -4.3, -4.7, -5.2, -5.8, -6.4, -7.2, -7.9
];
const eFitSP04 = [
  3.6, 5.2, 6.5, 8.7, 10.6, 12.5, 13.7, 13.3, 12.0, 9.1, 7.2, 6.1, 5.7, 5.3, 5.2,
  5.9, 8.2, 11.8, 13.5, 13.7, 13.1, 12.3, 9.9, 6.9, 5.0, 5.0, 6.4,
  8.2, 10.4, 12.5, 14.0, 14.3, 14.4, 13.9, 12.5, 10.3, 9.1, 8.9, 9.5,
  10.6, 12.5, 15.0, 16.3, 17.3, 16.0, 13.7, 12.0, 11.4, 11.1
];
const upFitCLS2 = [
  null, 4.2, 1.3, -3.4, -7.8, -10.0, -10.4, -10.1, -7.9, -4.1, 0.2, 3.8, 5.0, 4.6, 4.0,
  3.2, 0.8, -3.4, -8.1, -11.0, -11.5, -10.6, -6.3, -2.1, -0.9, -1.5, -3.8,
  -7.2, -11.4, -13.8, -16.1, -16.7, -14.8, -11.0, -8.7, -7.2, -6.6, -7.2, -10.0,
  -13.8, -17.0, -18.9, -19.9, -19.9, -18.6, -15.7, -12.9, -9.1, -5.7
];
const upFitSP04 = [
  40.0, 35.5, 32.4, 26.9, 22.5, 19.3, 18.4, 18.6, 20.2, 22.2, 25.0, 28.8, 32.5, 32.8, 32.2,
  31.6, 28.8, 23.1, 18.4, 16.5, 18.4, 21.2, 24.0, 24.6, 23.5, 22.2, 21.2,
  19.7, 16.5, 12.7, 9.8, 8.9, 10.2, 12.7, 16.5, 19.7, 21.6, 20.8, 18.4,
  16.1, 13.6, 10.8, 7.0, 4.5, 5.1, 9.8, 15.9, 19.3, 18.4
];

// Time axis: labelled ticks every six months, small ticks every month
const xStart = '2018-11-22';
const xEnd = '2022-09-30';
const shadeStart = '2022-04-01';
const majorTickDates = ['2019-01-01', '2019-07-01', '2020-01-01', '2020-07-01',
                        '2021-01-01', '2021-07-01', '2022-01-01', '2022-07-01'];
const majorTickLabels = ['gen\n2019', 'lug', 'gen\n2020', 'lug', 'gen\n2021', 'lug', 'gen\n2022', 'lug'];

// Vertical axes of the three panels
const nAxis = { name: 'N [mm]', min: 0, max: 44, labels: [0, 20, 40], minor: [10, 30] };
const eAxis = { name: 'E [mm]', min: -15, max: 34, labels: [-10, 0, 10, 20, 30], minor: [-15, -5, 5, 15, 25] };
const upAxis = { name: 'UP [mm]', min: -40, max: 70, labels: [0, 50], minor: [-40, -30, -20, -10, 10, 20, 30, 40, 60, 70] };

// ---------------------------------------------------------------------------
const SERIF = '"Liberation Serif", "DejaVu Serif", serif';
const INK = '#1a1a1a';
const DAY = 86400000;
const COLORS = { cls2: '#800080', sp04: '#00ff00', fitCls2: '#ff8000', fitSp04: '#000080' };
const DOT_SIZE = 8;

const xMin = Date.parse(xStart);
const xMax = Date.parse(xEnd);
const majorTicks = majorTickDates.map(d => Date.parse(d));
const minorTicks = [];
for (let y = 2018, m = 11; ; m++) {
  if (m > 11) { m = 0; y++; }
  const t = Date.UTC(y, m, 1);
  if (t > xMax) break;
  minorTicks.push(t);
}

function samples(values, start) {
  const t0 = Date.parse(start);
  const out = [];
  values.forEach((v, i) => {
    if (v !== null) out.push([t0 + i * sampleStepDays * DAY, v]);
  });
  return out;
}
const observed = (a, b) => samples(a, sampleStartA).concat(samples(b, sampleStartB));
function fitCurve(values) {
  const out = [];
  values.forEach((v, i) => {
    if (v !== null) out.push([Date.parse(fitDates[i]), v]);
  });
  return out;
}
const fmtNum = v => (v < 0 ? '\u2212' + Math.abs(v) : String(v));

const panels = [
  { axis: nAxis, top: 10, height: 193.5,
    cls: observed(nCLS2_a, nCLS2_b), sp: observed(nSP04_a, nSP04_b), fitC: nFitCLS2, fitS: nFitSP04 },
  { axis: eAxis, top: 235, height: 194,
    cls: observed(eCLS2_a, eCLS2_b), sp: observed(eSP04_a, eSP04_b), fitC: eFitCLS2, fitS: eFitSP04 },
  { axis: upAxis, top: 460, height: 194,
    cls: observed(upCLS2_a, upCLS2_b), sp: observed(upSP04_a, upSP04_b), fitC: upFitCLS2, fitS: upFitSP04 }
];

const tickLine = { color: INK, width: 1.3 };
const gridDots = { color: '#2a2a2a', width: 1.2, type: [1.2, 9.8] };

const grid = [];
const xAxis = [];
const yAxis = [];
const series = [];

panels.forEach((p, i) => {
  const isBottom = i === panels.length - 1;
  grid.push({ left: 116, right: 2, top: p.top, height: p.height });

  xAxis.push({
    type: 'value', gridIndex: i, min: xMin, max: xMax, position: 'bottom',
    axisLine: { show: isBottom, onZero: false, lineStyle: tickLine },
    axisTick: { show: isBottom, length: 17, inside: false, customValues: majorTicks, lineStyle: tickLine },
    axisLabel: {
      show: isBottom, customValues: majorTicks, margin: 21,
      fontFamily: SERIF, fontSize: 26, lineHeight: 30, color: INK,
      formatter: v => majorTickLabels[majorTicks.indexOf(v)] || ''
    },
    splitLine: { show: false }
  });

  yAxis.push({
    type: 'value', gridIndex: i, min: p.axis.min, max: p.axis.max, position: 'left',
    axisLine: { show: true, onZero: false, lineStyle: tickLine },
    axisTick: { show: true, length: 17, customValues: p.axis.labels, lineStyle: tickLine },
    axisLabel: {
      customValues: p.axis.labels, margin: 23,
      fontFamily: SERIF, fontSize: 25, color: INK, formatter: fmtNum
    },
    splitLine: { show: false },
    name: p.axis.name, nameLocation: 'middle', nameGap: 74, nameRotate: 90,
    nameTextStyle: { fontFamily: SERIF, fontSize: 27, color: INK }
  });
  yAxis.push({
    type: 'value', gridIndex: i, min: p.axis.min, max: p.axis.max, position: 'left',
    axisLine: { show: false, onZero: false },
    axisTick: { show: true, length: 8, customValues: p.axis.minor, lineStyle: tickLine },
    axisLabel: { show: false },
    splitLine: { show: false }
  });

  const xi = i, yi = 2 * i;

  // dotted reference grid
  series.push({
    type: 'line', xAxisIndex: xi, yAxisIndex: yi, data: [], silent: true, z: 1,
    markLine: {
      silent: true, symbol: ['none', 'none'], label: { show: false },
      lineStyle: gridDots, emphasis: { disabled: true }, animation: false,
      data: majorTicks.map(v => ({ xAxis: v })).concat(p.axis.labels.map(v => ({ yAxis: v })))
    }
  });

  series.push({
    type: 'scatter', name: 'CLS2', xAxisIndex: xi, yAxisIndex: yi, z: 2,
    symbol: 'circle', symbolSize: DOT_SIZE, itemStyle: { color: COLORS.cls2, opacity: 1 },
    data: p.cls
  });
  series.push({
    type: 'scatter', name: 'SP04', xAxisIndex: xi, yAxisIndex: yi, z: 2,
    symbol: 'circle', symbolSize: DOT_SIZE, itemStyle: { color: COLORS.sp04, opacity: 1 },
    data: p.sp
  });
  series.push({
    type: 'line', name: 'Fit spostamento CLS2', xAxisIndex: xi, yAxisIndex: yi, z: 3,
    smooth: 0.5, symbol: 'none', lineStyle: { color: COLORS.fitCls2, width: 3 },
    itemStyle: { color: COLORS.fitCls2 }, data: fitCurve(p.fitC)
  });
  series.push({
    type: 'line', name: 'Fit spostamento SP04', xAxisIndex: xi, yAxisIndex: yi, z: 3,
    smooth: 0.5, symbol: 'none', lineStyle: { color: COLORS.fitSp04, width: 3 },
    itemStyle: { color: COLORS.fitSp04 }, data: fitCurve(p.fitS)
  });
});

// monthly small ticks under the bottom panel
xAxis.push({
  type: 'value', gridIndex: 2, min: xMin, max: xMax, position: 'bottom',
  axisLine: { show: false, onZero: false },
  axisTick: { show: true, length: 8, customValues: minorTicks, lineStyle: tickLine },
  axisLabel: { show: false },
  splitLine: { show: false }
});

const legendText = { fontFamily: SERIF, fontSize: 27, color: INK, lineHeight: 24 };

const option = {
  animation: false,
  backgroundColor: '#ffffff',
  grid, xAxis, yAxis, series,
  legend: [
    {
      data: [{ name: 'CLS2', icon: 'circle' }, { name: 'SP04', icon: 'circle' }],
      orient: 'vertical', left: 275, top: 197, padding: 0,
      itemWidth: 50, itemHeight: 7, itemGap: 11, selectedMode: false, z: 6,
      textStyle: legendText
    },
    {
      data: [{ name: 'Fit spostamento CLS2', icon: 'rect' }, { name: 'Fit spostamento SP04', icon: 'rect' }],
      orient: 'vertical', left: 625, top: 197, padding: 0, symbolKeepAspect: false,
      itemWidth: 38, itemHeight: 3, itemGap: 11, selectedMode: false, z: 6,
      textStyle: Object.assign({ padding: [0, 0, 0, 8] }, legendText)
    }
  ]
};

const chart = echarts.init(document.getElementById('chart'), null, { renderer: 'canvas' });
chart.setOption(option);

// frame, shaded period and legend backdrop, placed from the axes' own scales
const xPx = v => chart.convertToPixel({ xAxisIndex: 0 }, v);
const yTop = chart.convertToPixel({ yAxisIndex: 0 }, nAxis.max);
const yBottom = chart.convertToPixel({ yAxisIndex: 4 }, upAxis.min);
const xLeft = xPx(xMin), xRight = xPx(xMax), xShade = xPx(Date.parse(shadeStart));

chart.setOption({
  graphic: [
    { type: 'rect', silent: true, z: -1,
      shape: { x: xShade, y: yTop, width: xRight - xShade, height: yBottom - yTop },
      style: { fill: '#dedede' } },
    { type: 'line', silent: true, z: 4,
      shape: { x1: xLeft, y1: yTop, x2: xRight, y2: yTop },
      style: { stroke: INK, lineWidth: 1.3 } },
    { type: 'line', silent: true, z: 4,
      shape: { x1: xRight, y1: yTop, x2: xRight, y2: yBottom },
      style: { stroke: INK, lineWidth: 1.3 } },
    { type: 'rect', silent: true, z: 5,
      shape: { x: 245, y: 184, width: 733, height: 86 },
      style: { fill: '#ffffff' } }
  ]
});
</script>
</body>
</html>
